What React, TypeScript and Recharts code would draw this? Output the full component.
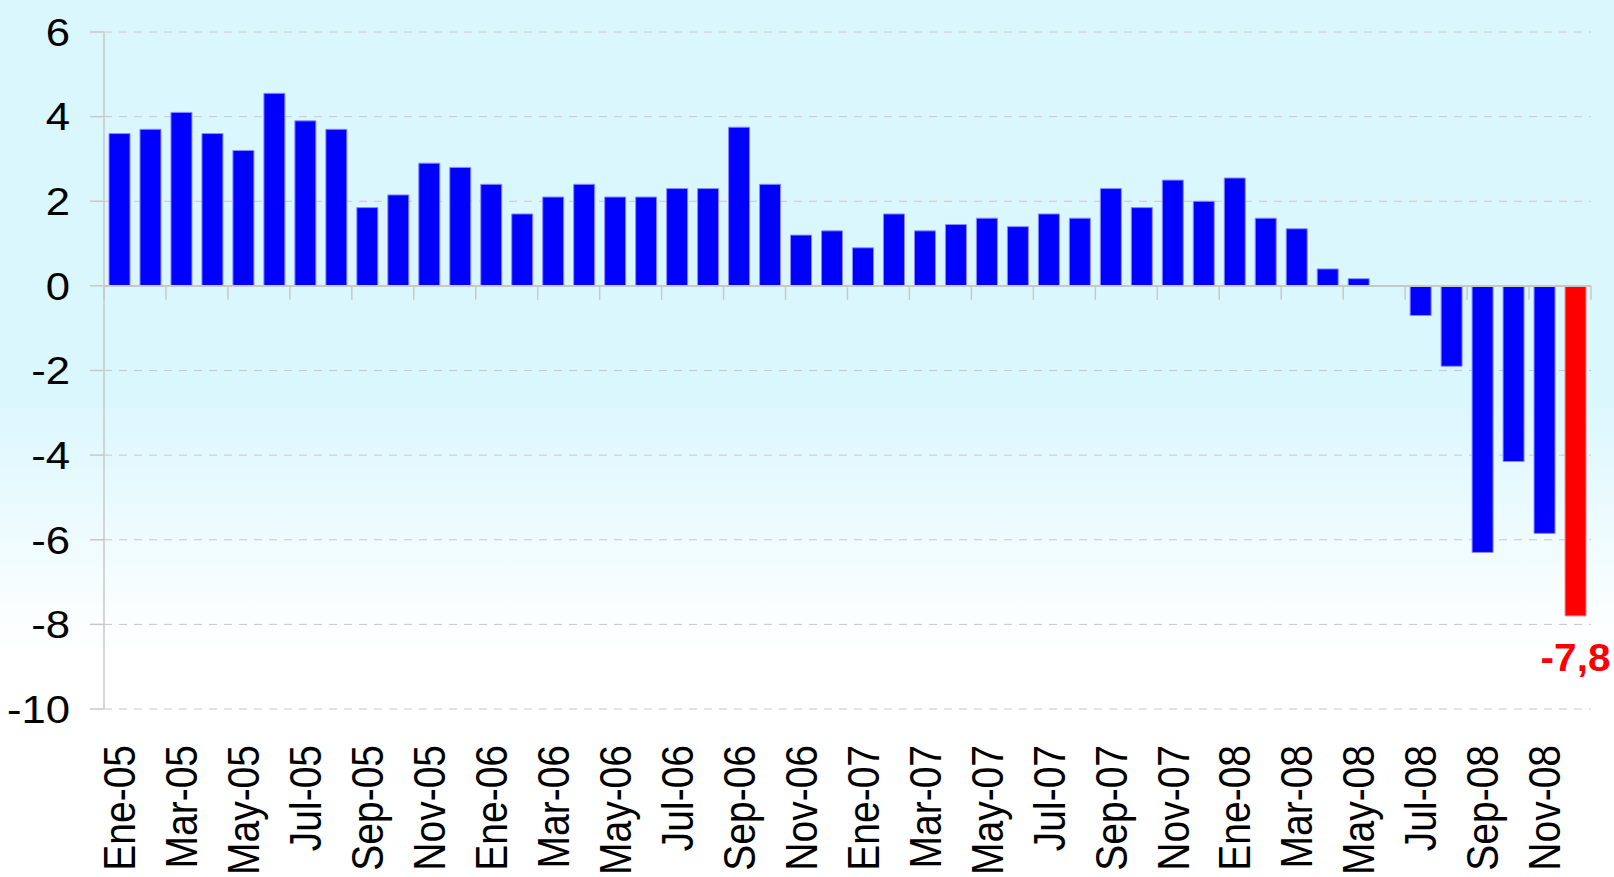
import React from "react";
import {BarChart, Bar, XAxis, YAxis, CartesianGrid, ReferenceLine, Cell, LabelList} from "recharts";

const monthNames = ["Ene", "Feb", "Mar", "Abr", "May", "Jun", "Jul", "Ago", "Sep", "Oct", "Nov", "Dic"];
const years = ["05", "06", "07", "08"];

// variación interanual, %
const values2005 = [3.6, 3.7, 4.1, 3.6, 3.2, 4.55, 3.9, 3.7, 1.85, 2.15, 2.9, 2.8];
const values2006 = [2.4, 1.7, 2.1, 2.4, 2.1, 2.1, 2.3, 2.3, 3.75, 2.4, 1.2, 1.3];
const values2007 = [0.9, 1.7, 1.3, 1.45, 1.6, 1.4, 1.7, 1.6, 2.3, 1.85, 2.5, 2.0];
const values2008 = [2.55, 1.6, 1.35, 0.4, 0.17, 0, -0.7, -1.9, -6.3, -4.15, -5.85, -7.8];

const yTicks = [-10, -8, -6, -4, -2, 0, 2, 4, 6];
const highlightLabel = "-7,8";

const yearValues = [values2005, values2006, values2007, values2008];
const data = years.flatMap((yr, yi) =>
  monthNames.map((m, mi) => ({month: `${m}-${yr}`, value: yearValues[yi][mi], idx: yi * 12 + mi}))
);
const lastIndex = data.length - 1;
const lastValue = data[lastIndex].value;
// tick marks on the zero line, every two months
const boundaries = data.filter((d) => d.idx % 2 === 0).map((d) => d.idx).concat([data.length]);

const FONT = "'Liberation Sans', Arial, sans-serif";
const GRAY = "#C8C8C8";
const STRETCH = 1.12; // text in the original is slightly wide

const XTick = (props: any) => {
  const {x, y, payload} = props;
  return (
    <text
      transform={`translate(${x},${y + 36}) rotate(-90) scale(1,${STRETCH})`}
      textAnchor="end"
      dy="0.36em"
      fontSize={39}
      fontFamily={FONT}
      fill="#000"
    >
      {payload.value}
    </text>
  );
};

const YTick = (props: any) => {
  const {x, y, payload} = props;
  return (
    <text
      transform={`translate(${x},${y}) scale(${STRETCH},1)`}
      textAnchor="end"
      dy="0.355em"
      fontSize={39}
      fontFamily={FONT}
      fill="#000"
    >
      {payload.value}
    </text>
  );
};

const renderHighlight = (props: any) => {
  const isLast = props.index === lastIndex || props.value === lastValue;
  if (!isLast) return null;
  const vb = props.viewBox && props.viewBox.width !== undefined ? props.viewBox : props;
  const x = Number(vb.x);
  const y = Number(vb.y);
  const w = Number(vb.width);
  const h = Number(vb.height);
  const bottom = Math.max(y, y + h);
  return (
    <text
      key="hl"
      transform={`translate(${x + w / 2},${bottom + 55}) scale(1.04,1)`}
      textAnchor="middle"
      fill="#FF0000"
      fontWeight="bold"
      fontSize={39}
      fontFamily={FONT}
    >
      {highlightLabel}
    </text>
  );
};

const App = () => {
  return (
    <div
      style={{
        position: "absolute",
        left: 0,
        top: 0,
        width: 1614,
        height: 877,
        background: "linear-gradient(to bottom, #DBF7FE 0%, #DBF7FE 46%, #FFFFFF 74%, #FFFFFF 100%)",
        fontFamily: FONT,
      }}
    >
      <BarChart width={1614} height={877} data={data} margin={{top: 32, right: 23, bottom: 8, left: 0}}>
        <CartesianGrid vertical={false} stroke={GRAY} strokeDasharray="8 7" />
        <XAxis
          dataKey="month"
          interval={1}
          axisLine={false}
          tickLine={false}
          tickSize={0}
          tickMargin={0}
          height={160}
          tick={<XTick />}
        />
        <XAxis xAxisId="n" type="number" dataKey="idx" domain={[0, data.length]} hide />
        <YAxis
          domain={[-10, 6]}
          ticks={yTicks}
          width={104}
          axisLine={{stroke: GRAY, strokeWidth: 1.5}}
          tickLine={{stroke: GRAY, strokeWidth: 1.5}}
          tickSize={14}
          tickMargin={20}
          tick={<YTick />}
        />
        <Bar dataKey="value" barSize={21} fill="#0000FF" stroke="#8A8AFF" strokeWidth={1} isAnimationActive={false}>
          {data.map((d) => (
            <Cell
              key={d.month}
              fill={d.idx === lastIndex ? "#FF0000" : "#0000FF"}
              stroke={d.idx === lastIndex ? "#FF8A8A" : "#8A8AFF"}
            />
          ))}
          <LabelList dataKey="value" content={renderHighlight} />
        </Bar>
        <ReferenceLine y={0} stroke={GRAY} strokeWidth={2} />
        {boundaries.map((b) => (
          <ReferenceLine
            key={b}
            xAxisId="n"
            segment={[{x: b, y: 0}, {x: b, y: -0.33}]}
            stroke={GRAY}
            strokeWidth={1.5}
          />
        ))}
      </BarChart>
    </div>
  );
};

export default App;
